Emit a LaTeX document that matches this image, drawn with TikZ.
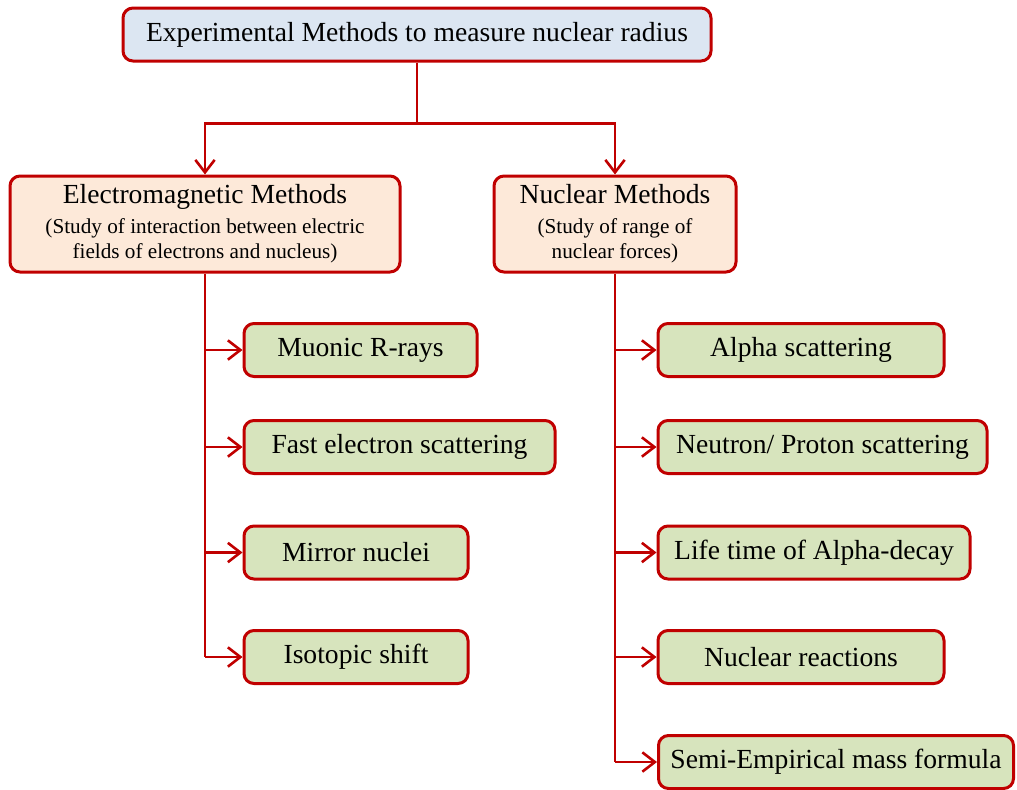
\documentclass[tikz,border=0pt]{standalone}
\usepackage{fontspec}
\setmainfont{Liberation Serif}
\usetikzlibrary{arrows.meta, positioning}
\definecolor{ppRed}{HTML}{C00000}
\definecolor{ppBlueF}{HTML}{DCE6F2}
\definecolor{ppOrangeF}{HTML}{FDE9D9}
\definecolor{ppGreenF}{HTML}{D7E4BD}
\newcommand{\subsz}{\fontsize{10.6}{12.5}\selectfont}
\tikzset{
  >={Straight Barb[length=2.2mm, width=3.4mm, line width=1.3pt]},
  box/.style={rounded corners=5pt, draw=ppRed, line width=1.5pt,
    align=center, inner sep=2pt, text=black},
  topbox/.style={box, fill=ppBlueF, minimum width=294pt, minimum height=26.5pt,
    font=\fontsize{13.8}{15}\selectfont},
  groupbox/.style={box, fill=ppOrangeF, minimum height=48pt,
    font=\fontsize{13.8}{15}\selectfont},
  leaf/.style={box, fill=ppGreenF, minimum height=26.5pt,
    font=\fontsize{13.8}{15}\selectfont},
  link/.style={->, draw=ppRed, line width=1.4pt},
  spine/.style={draw=ppRed, line width=1.4pt},
}

\begin{document}
\begin{tikzpicture}[x=0.5pt, y=-0.5pt]
  \useasboundingbox (0,0) rectangle (1017,789);

  % ---- Top box -----------------------------------------------------------
  \node[topbox] (title) at (417,34.5) {Experimental Methods to measure nuclear radius};

  % ---- The two families --------------------------------------------------
  \node[groupbox, minimum width=195pt] (em) at (205,224)
    {Electromagnetic Methods\\[0pt]
     {\subsz (Study of interaction between electric}\\[-2.5pt]
     {\subsz fields of electrons and nucleus)}};
  \node[groupbox, minimum width=121pt] (nuc) at (615,224)
    {Nuclear Methods\\[0pt]
     {\subsz (Study of range of}\\[-2.5pt]
     {\subsz nuclear forces)}};

  \draw[link] (title.south) -- ++(0,61) -| (em.north);
  \draw[link] (title.south) -- ++(0,61) -| (nuc.north);

  % ---- Electromagnetic methods -------------------------------------------
  \node[leaf, minimum width=116.5pt] (muon)   at (360.5,350) {Muonic R-rays};
  \node[leaf, minimum width=155.5pt] (fast)   at (399.5,447) {Fast electron scattering};
  \node[leaf, minimum width=112pt]   (mirror) at (356,552.5) {Mirror nuclei};
  \node[leaf, minimum width=112pt]   (iso)    at (356,657)   {Isotopic shift};

  \draw[spine] (em.south) -- (em.south |- iso);
  \foreach \n in {muon, fast, mirror, iso}
    \draw[link] (em.south |- \n) -- (\n.west);

  % ---- Nuclear methods ----------------------------------------------------
  \node[leaf, minimum width=143pt]   (alpha) at (801,350)   {Alpha scattering};
  \node[leaf, minimum width=164.5pt] (np)    at (822.5,447) {Neutron/ Proton scattering};
  \node[leaf, minimum width=156pt]   (life)  at (814,552.5) {Life time of Alpha-decay};
  \node[leaf, minimum width=143pt]   (react) at (801,657)   {Nuclear reactions};
  \node[leaf, minimum width=177.5pt] (semi)  at (836,762)   {Semi-Empirical mass formula};

  \draw[spine] (nuc.south) -- (nuc.south |- semi);
  \foreach \n in {alpha, np, life, react, semi}
    \draw[link] (nuc.south |- \n) -- (\n.west);

\end{tikzpicture}
\end{document}
